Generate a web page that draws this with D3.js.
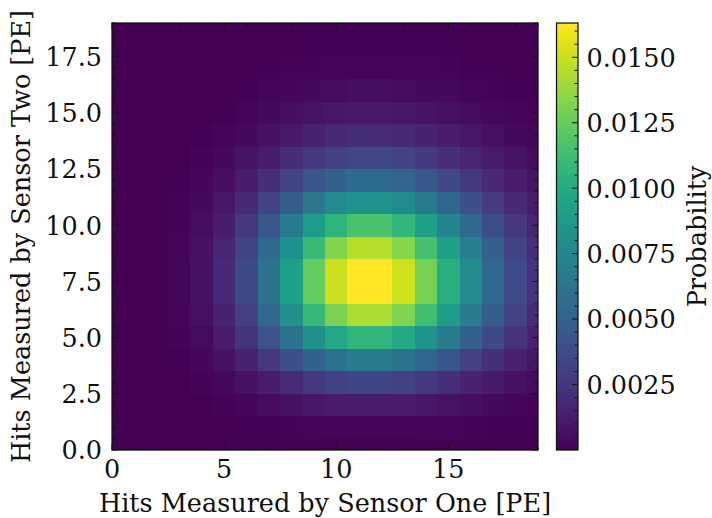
<!DOCTYPE html>
<html>

<head>
    <script src="https://d3js.org/d3.v7.min.js"></script>
    <title>HITS HEATMAP</title>
    <style>
        body { margin: 0; background: #fff; }
        text { font-family: "DejaVu Serif", serif; fill: #111; }
    </style>
</head>

<body>
    <svg></svg>
    <script>
        // bin centres (photo-electrons) for each sensor
        const hitsSensorOne = [0, 1, 2, 3, 4, 5, 6, 7, 8, 9, 10, 11, 12, 13, 14, 15, 16, 17, 18, 19];
        const hitsSensorTwo = [0, 1, 2, 3, 4, 5, 6, 7, 8, 9, 10, 11, 12, 13, 14, 15, 16, 17, 18, 19];

        // probability, in units of 1e-5
        // one row per Sensor Two bin (bottom to top), one column per Sensor One bin
        const probUnit = 1e-5;
        const probRows = [
            [0, 0, 0, 0, 0, 0, 1, 1, 2, 3, 4, 4, 4, 4, 3, 2, 2, 1, 1, 1],
            [0, 0, 0, 0, 1, 3, 7, 12, 18, 24, 29, 31, 31, 29, 25, 20, 15, 11, 7, 4],
            [0, 0, 0, 2, 6, 14, 28, 48, 72, 96, 115, 125, 125, 116, 99, 79, 60, 42, 28, 18],
            [0, 0, 1, 5, 16, 37, 75, 128, 192, 256, 307, 335, 335, 309, 265, 212, 159, 112, 75, 47],
            [0, 0, 3, 10, 31, 75, 149, 255, 383, 511, 613, 669, 669, 618, 529, 423, 318, 224, 149, 94],
            [0, 1, 4, 17, 50, 119, 238, 409, 613, 818, 981, 1070, 1070, 988, 847, 677, 508, 359, 239, 151],
            [0, 1, 6, 22, 66, 159, 318, 545, 818, 1090, 1308, 1427, 1427, 1318, 1129, 903, 678, 478, 319, 201],
            [0, 1, 6, 25, 76, 182, 363, 623, 935, 1246, 1495, 1631, 1631, 1506, 1291, 1032, 774, 547, 364, 230],
            [0, 1, 6, 25, 76, 182, 363, 623, 935, 1246, 1495, 1631, 1631, 1506, 1291, 1032, 774, 547, 364, 230],
            [0, 1, 6, 22, 67, 162, 323, 554, 831, 1108, 1329, 1450, 1450, 1339, 1147, 918, 688, 486, 324, 205],
            [0, 1, 4, 18, 54, 129, 258, 443, 665, 886, 1063, 1160, 1160, 1071, 918, 734, 551, 389, 259, 164],
            [0, 1, 3, 13, 39, 94, 188, 322, 483, 644, 773, 844, 844, 779, 667, 534, 400, 283, 189, 119],
            [0, 0, 2, 9, 26, 63, 125, 215, 322, 430, 516, 562, 562, 519, 445, 356, 267, 188, 126, 79],
            [0, 0, 1, 5, 16, 39, 77, 132, 198, 264, 317, 346, 346, 320, 274, 219, 164, 116, 77, 49],
            [0, 0, 1, 3, 9, 22, 44, 76, 113, 151, 181, 198, 198, 183, 156, 125, 94, 66, 44, 28],
            [0, 0, 0, 2, 5, 12, 23, 40, 60, 81, 97, 105, 105, 97, 83, 67, 50, 35, 24, 15],
            [0, 0, 0, 1, 2, 6, 12, 20, 30, 40, 48, 53, 53, 49, 42, 33, 25, 18, 12, 7],
            [0, 0, 0, 0, 1, 3, 6, 9, 14, 19, 23, 25, 25, 23, 20, 16, 12, 8, 6, 4],
            [0, 0, 0, 0, 1, 1, 2, 4, 6, 8, 10, 11, 11, 10, 9, 7, 5, 4, 2, 2],
            [0, 0, 0, 0, 0, 1, 1, 2, 3, 4, 4, 5, 5, 4, 4, 3, 2, 2, 1, 1]
        ];

        const xTickValues = [0, 5, 10, 15];
        const yTickValues = [0, 2.5, 5, 7.5, 10, 12.5, 15, 17.5];
        const cbTickValues = [0.0025, 0.005, 0.0075, 0.01, 0.0125, 0.015];

        const width = 712;
        const height = 518;
        const plot = { left: 112, right: 538, top: 23, bottom: 450 };
        const cbar = { left: 556.5, right: 578 };
        const fontSize = 25.5;
        const majorLen = 6, minorLen = 3.5;

        const svg = d3.select("svg")
            .attr("width", width)
            .attr("height", height);

        const cells = [];
        hitsSensorTwo.forEach(function (yv, r) {
            hitsSensorOne.forEach(function (xv, c) {
                cells.push({ x: xv, y: yv, p: probRows[r][c] * probUnit });
            });
        });

        const x = d3.scaleLinear().domain([0, 19]).range([plot.left, plot.right]);
        const y = d3.scaleLinear().domain([0, 19]).range([plot.bottom, plot.top]);
        const color = d3.scaleSequential(d3.interpolateViridis)
            .domain(d3.extent(cells, function (d) { return d.p; }));

        svg.append("clipPath").attr("id", "clip")
            .append("rect")
            .attr("x", plot.left).attr("y", plot.top)
            .attr("width", plot.right - plot.left)
            .attr("height", plot.bottom - plot.top);

        svg.append("g")
            .attr("clip-path", "url(#clip)")
            .attr("shape-rendering", "crispEdges")
            .selectAll("rect")
            .data(cells)
            .enter()
            .append("rect")
            .attr("x", function (d) { return Math.round(x(d.x - 0.5)); })
            .attr("y", function (d) { return Math.round(y(d.y + 0.5)); })
            .attr("width", function (d) { return Math.round(x(d.x + 0.5)) - Math.round(x(d.x - 0.5)); })
            .attr("height", function (d) { return Math.round(y(d.y - 0.5)) - Math.round(y(d.y + 0.5)); })
            .attr("fill", function (d) { return color(d.p); });

        // inward ticks on all four sides
        const xMinor = d3.range(0, 19.01, 1).filter(function (v) { return v % 5 !== 0; });
        const yMinor = d3.range(0, 19.01, 0.5).filter(function (v) { return v % 2.5 !== 0; });
        const ticks = svg.append("g").attr("stroke", "#111").attr("stroke-width", 1);

        function hTicks(vals, len) {
            vals.forEach(function (v) {
                ticks.append("line").attr("x1", x(v)).attr("x2", x(v))
                    .attr("y1", plot.bottom).attr("y2", plot.bottom - len);
                ticks.append("line").attr("x1", x(v)).attr("x2", x(v))
                    .attr("y1", plot.top).attr("y2", plot.top + len);
            });
        }
        function vTicks(vals, len) {
            vals.forEach(function (v) {
                ticks.append("line").attr("y1", y(v)).attr("y2", y(v))
                    .attr("x1", plot.left).attr("x2", plot.left + len);
                ticks.append("line").attr("y1", y(v)).attr("y2", y(v))
                    .attr("x1", plot.right).attr("x2", plot.right - len);
            });
        }
        hTicks(xTickValues, majorLen);
        hTicks(xMinor, minorLen);
        vTicks(yTickValues, majorLen);
        vTicks(yMinor, minorLen);

        svg.append("rect")
            .attr("x", plot.left).attr("y", plot.top)
            .attr("width", plot.right - plot.left)
            .attr("height", plot.bottom - plot.top)
            .attr("fill", "none").attr("stroke", "#111").attr("stroke-width", 1.25);

        svg.append("g").selectAll("text")
            .data(xTickValues).enter().append("text")
            .attr("x", function (d) { return x(d); })
            .attr("y", 478)
            .attr("text-anchor", "middle")
            .style("font-size", fontSize + "px")
            .text(function (d) { return d; });

        svg.append("g").selectAll("text")
            .data(yTickValues).enter().append("text")
            .attr("x", plot.left - 10)
            .attr("y", function (d) { return y(d) + 9.3; })
            .attr("text-anchor", "end")
            .style("font-size", fontSize + "px")
            .text(function (d) { return d.toFixed(1); });

        svg.append("text")
            .attr("x", (plot.left + plot.right) / 2)
            .attr("y", 511.5)
            .attr("text-anchor", "middle")
            .style("font-size", fontSize + "px")
            .text("Hits Measured by Sensor One [PE]");

        svg.append("text")
            .attr("transform", "translate(30," + (plot.top + plot.bottom) / 2 + ") rotate(-90)")
            .attr("text-anchor", "middle")
            .style("font-size", fontSize + "px")
            .text("Hits Measured by Sensor Two [PE]");

        // colour bar
        const cb = d3.scaleLinear().domain(color.domain()).range([plot.bottom, plot.top]);
        const grad = svg.append("defs").append("linearGradient")
            .attr("id", "cbgrad")
            .attr("x1", 0).attr("y1", 1).attr("x2", 0).attr("y2", 0);
        d3.range(0, 1.0001, 0.02).forEach(function (t) {
            grad.append("stop")
                .attr("offset", t)
                .attr("stop-color", d3.interpolateViridis(t));
        });
        svg.append("rect")
            .attr("x", cbar.left).attr("y", plot.top)
            .attr("width", cbar.right - cbar.left)
            .attr("height", plot.bottom - plot.top)
            .attr("fill", "url(#cbgrad)");

        const cbMinor = d3.range(0.0005, color.domain()[1], 0.0005)
            .filter(function (v) { return Math.abs(v / 0.0025 - Math.round(v / 0.0025)) > 1e-6; });
        const cbTicks = svg.append("g").attr("stroke", "#111").attr("stroke-width", 1);
        cbTickValues.forEach(function (v) {
            cbTicks.append("line").attr("x1", cbar.right).attr("x2", cbar.right - majorLen)
                .attr("y1", cb(v)).attr("y2", cb(v));
        });
        cbMinor.forEach(function (v) {
            cbTicks.append("line").attr("x1", cbar.right).attr("x2", cbar.right - minorLen)
                .attr("y1", cb(v)).attr("y2", cb(v));
        });
        svg.append("rect")
            .attr("x", cbar.left).attr("y", plot.top)
            .attr("width", cbar.right - cbar.left)
            .attr("height", plot.bottom - plot.top)
            .attr("fill", "none").attr("stroke", "#111").attr("stroke-width", 1.25);

        svg.append("g").selectAll("text")
            .data(cbTickValues).enter().append("text")
            .attr("x", cbar.right + 8.5)
            .attr("y", function (d) { return cb(d) + 9.4; })
            .style("font-size", fontSize + "px")
            .text(function (d) { return d.toFixed(4); });

        svg.append("text")
            .attr("transform", "translate(706," + (plot.top + plot.bottom) / 2 + ") rotate(-90)")
            .attr("text-anchor", "middle")
            .style("font-size", fontSize + "px")
            .text("Probability");
    </script>
</body>

</html>
